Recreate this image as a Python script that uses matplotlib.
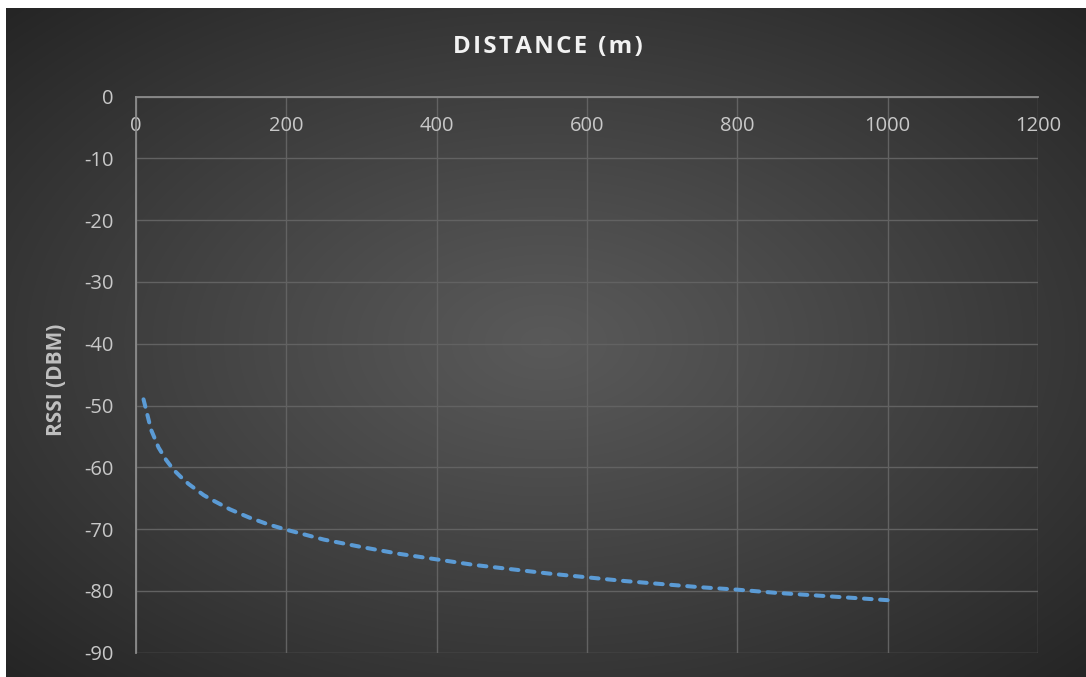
import numpy as np
import matplotlib
matplotlib.use("Agg")
import matplotlib.pyplot as plt

# values
distance_m = [10, 20, 30, 40, 50, 60, 70, 80, 90, 100, 125, 150, 175, 200,
              250, 300, 350, 400, 450, 500, 550, 600, 650, 700, 750, 800,
              850, 900, 950, 1000]
rssi_dbm = [-49.0, -53.9, -56.8, -58.8, -60.4, -61.6, -62.7, -63.6, -64.5,
            -65.2, -66.8, -68.1, -69.2, -70.1, -71.7, -72.9, -74.0, -74.9,
            -75.8, -76.5, -77.2, -77.8, -78.4, -78.9, -79.4, -79.8, -80.3,
            -80.7, -81.1, -81.5]
x_ticks = [0, 200, 400, 600, 800, 1000, 1200]
y_ticks = [0, -10, -20, -30, -40, -50, -60, -70, -80, -90]

plt.rcParams["font.family"] = ["Open Sans", "DejaVu Sans"]
plt.rcParams["axes.unicode_minus"] = False

W, H = 1086, 677
fig = plt.figure(figsize=(W / 100, H / 100), dpi=100, facecolor="white")

# dark radial-gradient chart area (leaves a thin white strip top/left)
bg = fig.add_axes([6 / W, 0, (W - 6) / W, (H - 8) / H], zorder=0)
gx, gy = np.meshgrid(np.linspace(-1, 1, 540), np.linspace(-1, 1, 335))
r = np.clip(np.sqrt(gx ** 2 + gy ** 2) / np.sqrt(2), 0, 1)
shade = 0.35 - (0.35 - 0.145) * r ** 1.1
bg.imshow(np.dstack([shade] * 3), aspect="auto", interpolation="bilinear",
          extent=[0, 1, 0, 1])
bg.set_axis_off()

ax = fig.add_axes([136 / W, (H - 652.7) / H, 902 / W, 556.2 / H], zorder=1)
ax.set_facecolor("none")

ax.plot(distance_m, rssi_dbm, color="#5b9bd5", lw=2.9,
        dashes=(1.9, 2.1), dash_capstyle="round", zorder=3)

ax.set_xlim(0, 1200)
ax.set_ylim(-90, 0)
ax.set_xticks(x_ticks)
ax.set_yticks(y_ticks)

ax.grid(True, color="#626262", lw=1.0)
ax.set_axisbelow(True)

# x axis crosses at y = 0, so it sits on top with labels underneath
ax.spines["bottom"].set_position(("data", 0))
ax.spines["bottom"].set_color("#8c8c8c")
ax.spines["bottom"].set_linewidth(1.3)
ax.spines["left"].set_color("#8c8c8c")
ax.spines["left"].set_linewidth(1.3)
ax.spines["top"].set_visible(False)
ax.spines["right"].set_visible(False)

ax.tick_params(axis="x", length=0, pad=14, labelsize=14.5, labelcolor="#c8c8c8")
ax.tick_params(axis="y", length=0, pad=16, labelsize=14.5, labelcolor="#c8c8c8")

title = "\u200a".join("DISTANCE") + " \u2009" + "\u200a".join("(m)")
fig.text(548 / W, 1 - 47 / H, title, ha="center", va="center",
         fontsize=17.3, fontweight="bold", color="#f2f2f2")
fig.text(57 / W, 1 - 380 / H, "RSSI (DBM)", rotation=90, ha="center",
         va="center", fontsize=15, fontweight="bold", color="#c0c0c0")

fig.savefig("out.png", dpi=100, facecolor="white")
